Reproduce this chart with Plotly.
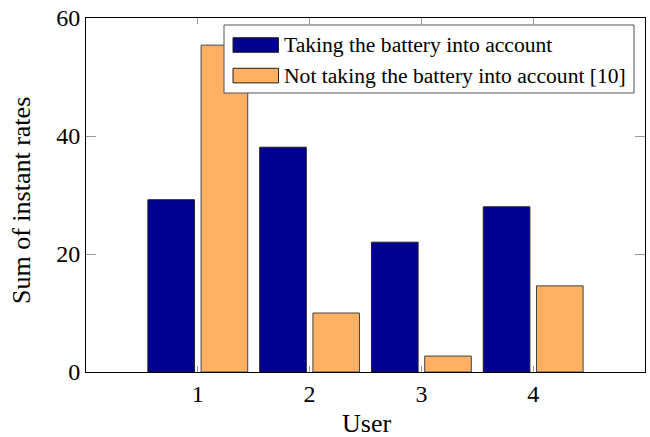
import plotly.graph_objects as go

users = [1, 2, 3, 4]
with_battery = [29.2, 38.1, 22.0, 28.0]
without_battery = [55.4, 10.0, 2.7, 14.6]
series_names = ["Taking the battery into account",
                "Not taking the battery into account [10]"]
colors = ["#000091", "#FFB062"]
y_ticks = [0, 20, 40, 60]

FONT = "Liberation Serif"
bw = 0.417
fig = go.Figure()
fig.add_trace(go.Bar(x=users, y=with_battery, name=series_names[0], width=bw,
                     offset=-0.238 - bw / 2,
                     marker=dict(color=colors[0], line=dict(color="#222222", width=1))))
fig.add_trace(go.Bar(x=users, y=without_battery, name=series_names[1], width=bw,
                     offset=0.238 - bw / 2,
                     marker=dict(color=colors[1], line=dict(color="#444444", width=1))))

# custom legend (pgfplots style wide patches)
def px2x(px):
    return (px - 86) / 559.0

def py2y(py):
    return (372 - py) / 354.0

shapes = [dict(type="rect", xref="paper", yref="paper",
               x0=px2x(224), x1=px2x(634), y0=py2y(93), y1=py2y(25),
               line=dict(color="#555555", width=1), fillcolor="white", layer="above")]
annotations = []
for i, (name, col) in enumerate(zip(series_names, colors)):
    top = 37.7 + i * 30.6
    shapes.append(dict(type="rect", xref="paper", yref="paper",
                       x0=px2x(233), x1=px2x(278.5), y0=py2y(top + 14.6), y1=py2y(top),
                       line=dict(color="#222222", width=1), fillcolor=col, layer="above"))
    annotations.append(dict(xref="paper", yref="paper", x=px2x(282), y=py2y(top + 7.3),
                            text=name, showarrow=False, xanchor="left", yanchor="middle",
                            font=dict(family=FONT, size=21.6, color="black")))

# axis titles
annotations.append(dict(xref="paper", yref="paper", x=px2x(366), y=py2y(423),
                        text="User", showarrow=False, xanchor="center", yanchor="middle",
                        font=dict(family=FONT, size=26, color="black")))
annotations.append(dict(xref="paper", yref="paper", x=px2x(22), y=py2y(201),
                        text="Sum of instant rates", showarrow=False, textangle=-90,
                        xanchor="center", yanchor="middle",
                        font=dict(family=FONT, size=26, color="black")))

fig.update_layout(
    width=650, height=437,
    margin=dict(l=86, r=5, t=18, b=65),
    plot_bgcolor="white", paper_bgcolor="white",
    showlegend=False,
    barmode="overlay",
    font=dict(family=FONT, size=24, color="black"),
    shapes=shapes, annotations=annotations,
    xaxis=dict(range=[0, 5], tickvals=users, ticktext=[str(u) for u in users],
               ticks="inside", ticklen=6, tickcolor="#999999", tickwidth=1,
               showline=True, linecolor="black", linewidth=1, mirror="allticks",
               showgrid=False, zeroline=False, automargin=False,
               tickfont=dict(family=FONT, size=24)),
    yaxis=dict(range=[0, 60], tickvals=y_ticks, ticks="inside", ticklen=10,
               tickcolor="#999999", tickwidth=1,
               showline=True, linecolor="black", linewidth=1, mirror="allticks",
               showgrid=False, zeroline=False, automargin=False,
               tickfont=dict(family=FONT, size=24)),
)
fig.write_html("out.html", config={"displayModeBar": False},
               post_script="document.body.style.margin='0';")
